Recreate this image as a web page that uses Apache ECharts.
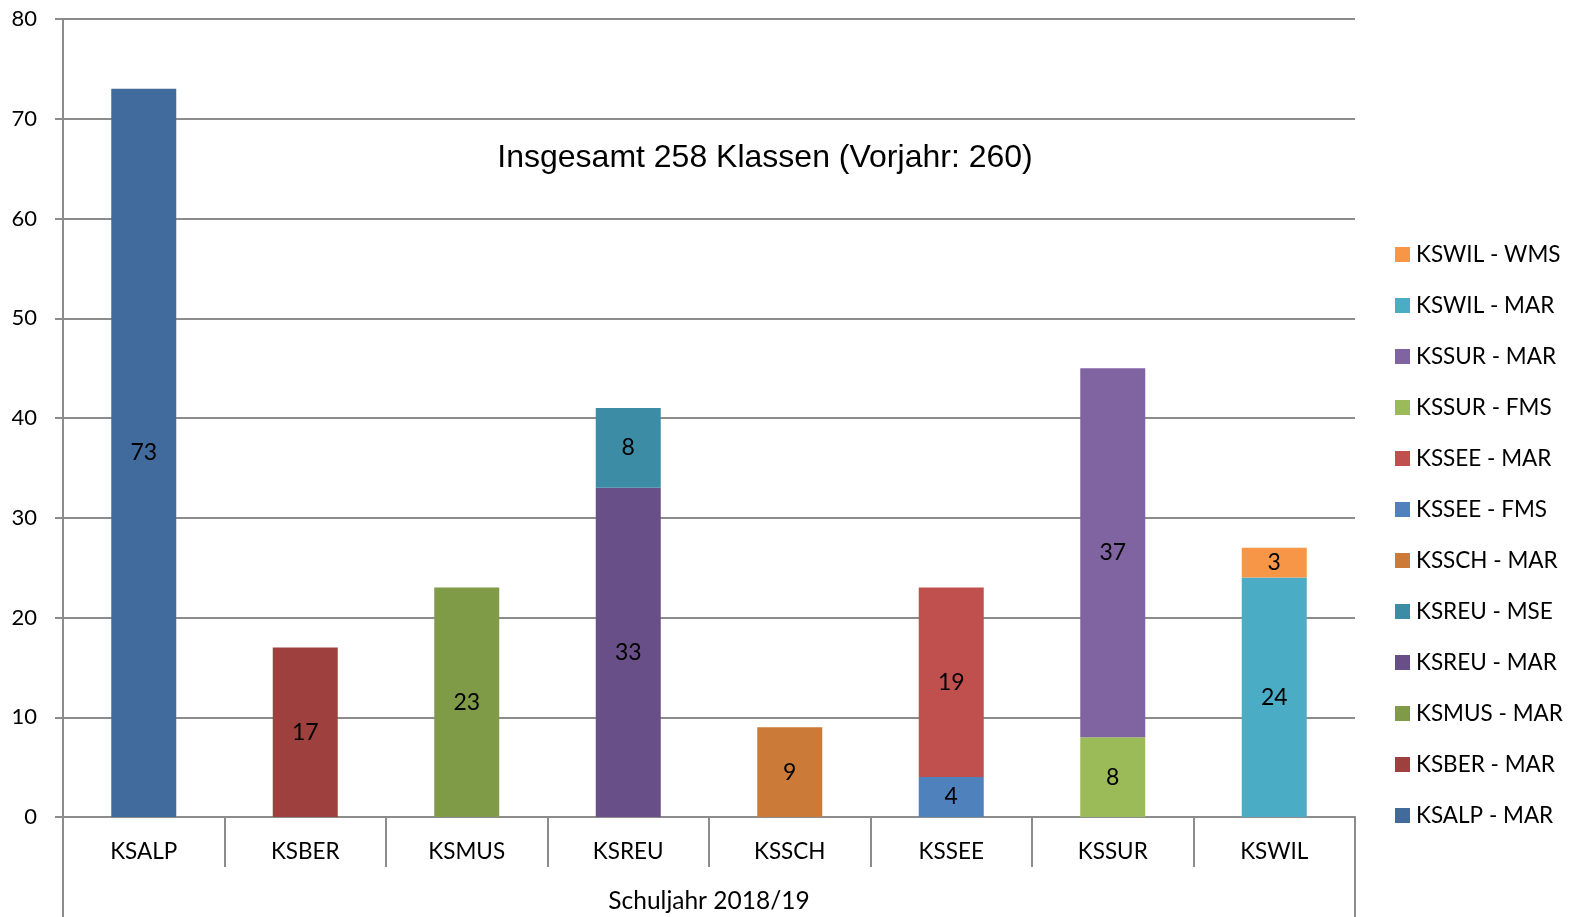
<!DOCTYPE html>
<html><head><meta charset="utf-8">
<script src="https://cdn.jsdelivr.net/npm/echarts@6/dist/echarts.min.js"></script>
<style>html,body{margin:0;padding:0;background:#fff}#c{width:1585px;height:917px}</style>
</head><body><div id="c"></div>
<script>
const categories = ['KSALP','KSBER','KSMUS','KSREU','KSSCH','KSSEE','KSSUR','KSWIL'];
const seriesNames = ['KSALP - MAR','KSBER - MAR','KSMUS - MAR','KSREU - MAR','KSREU - MSE','KSSCH - MAR','KSSEE - FMS','KSSEE - MAR','KSSUR - FMS','KSSUR - MAR','KSWIL - MAR','KSWIL - WMS'];
const seriesCategory = ['KSALP','KSBER','KSMUS','KSREU','KSREU','KSSCH','KSSEE','KSSEE','KSSUR','KSSUR','KSWIL','KSWIL'];
const seriesValues = [73,17,23,33,8,9,4,19,8,37,24,3];
const seriesColors = ['#416B9C','#9E413E','#7F9B48','#684F87','#3C8CA5','#CC7A38','#4F81BD','#C0504D','#9BBB59','#8064A2','#4BACC6','#F79646'];
const yTicks = {min:0,max:80,interval:10};
const xAxisTitle = 'Schuljahr 2018/19';
const chartNote = 'Insgesamt 258 Klassen (Vorjahr: 260)';

const font = 'Lato, "Open Sans", sans-serif';
const gridColor = '#8c8c8c';
const chart = echarts.init(document.getElementById('c'));
const series = seriesNames.map((n,i)=>({
  name:n, type:'bar', stack:'total', barWidth:65,
  data: categories.map(c => c===seriesCategory[i] ? seriesValues[i] : null),
  itemStyle:{color:seriesColors[i]},
  label:{show:true, position:'inside', color:'#000', fontFamily:font, fontSize:23,
    formatter:p=>p.value==null?'':p.value}
}));
chart.setOption({
  animation:false,
  backgroundColor:'#fff',
  title:{text:chartNote, left:760, top:137, textAlign:'center',
    textStyle:{fontFamily:'"Liberation Sans", Arial, sans-serif', fontSize:32, fontWeight:'normal', color:'#000'}},
  legend:{orient:'vertical', left:1390, top:238, itemWidth:15, itemHeight:15, itemGap:28, icon:'rect',
    data:seriesNames.slice().reverse(),
    textStyle:{fontFamily:font, fontSize:22.5, color:'#000', padding:[0,0,0,1]}},
  grid:{left:63, right:230, top:19, bottom:100, containLabel:false},
  xAxis:[{
    type:'category', data:categories, position:'bottom',
    axisLine:{lineStyle:{color:gridColor, width:2}},
    axisTick:{show:true, length:50, alignWithLabel:false, lineStyle:{color:gridColor, width:2}},
    axisLabel:{fontFamily:font, fontSize:22.5, color:'#000', margin:23}
  },{
    type:'category', data:[xAxisTitle], position:'bottom',
    axisLine:{show:false},
    axisTick:{show:true, length:100, lineStyle:{color:gridColor, width:2}},
    axisLabel:{fontFamily:font, fontSize:24.5, color:'#000', margin:72}
  }],
  yAxis:{type:'value', min:yTicks.min, max:yTicks.max, interval:yTicks.interval,
    axisLine:{show:true, lineStyle:{color:gridColor, width:2}},
    axisTick:{show:true, length:8, lineStyle:{color:gridColor, width:2}},
    axisLabel:{fontFamily:font, fontSize:22, color:'#000', margin:26},
    splitLine:{lineStyle:{color:gridColor, width:2}}},
  series:series
});
</script></body></html>
